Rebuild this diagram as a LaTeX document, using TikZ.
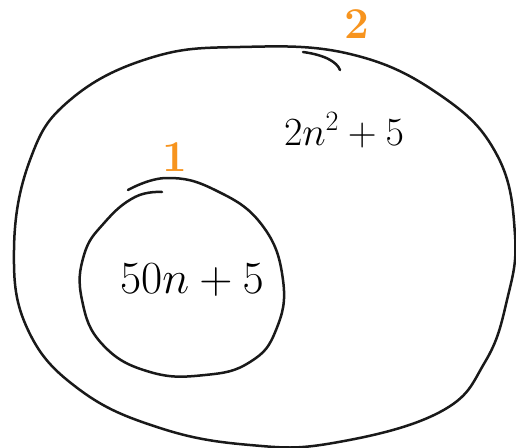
\RequirePackage{fix-cm}
\documentclass[tikz,border=0pt]{standalone}
\definecolor{orangeA}{RGB}{247,148,30}
\begin{document}
\begin{tikzpicture}[x=1pt,y=-1pt,
  stroke/.style={line width=2.5pt, line cap=round, line join=round, black!90},
  formula/.style={inner sep=0pt},
  lab/.style={inner sep=0pt, text=orangeA, font=\bfseries\fontsize{44}{44}\selectfont}]
\useasboundingbox (0,0) rectangle (516,447);
% outer set
\draw[stroke] plot[smooth cycle, tension=0.7] coordinates {(240,47) (350,54) (440,95) (497,155) (515,235) (507,300) (485,362) (440,412) (333,443) (250,445) (160,428) (80,390) (28,330) (14,250) (30,160) (70,100) (150,58)};
\coordinate (t2a) at (303,52);
\coordinate (t2b) at (340,70);
\draw[stroke] (t2a) .. controls (325,55) and (337,62) .. (t2b);
% inner set
\draw[stroke] plot[smooth, tension=0.75] coordinates {(128,190) (167,178) (215,190) (262,225) (283,280) (276,330) (250,362) (205,375) (150,372) (103,345) (82,300) (84,255) (105,222) (135,197) (162,192)};
% texts
\node[formula, font=\fontsize{40}{40}\selectfont] (f2) at (344,130) {$2n^2+5$};
\node[formula, font=\fontsize{46}{46}\selectfont] (f1) at (192,280) {$50n+5$};
\node[lab] (l1) at (175,157) {1};
\node[lab] (l2) at (357,24) {2};
\end{tikzpicture}
\end{document}
